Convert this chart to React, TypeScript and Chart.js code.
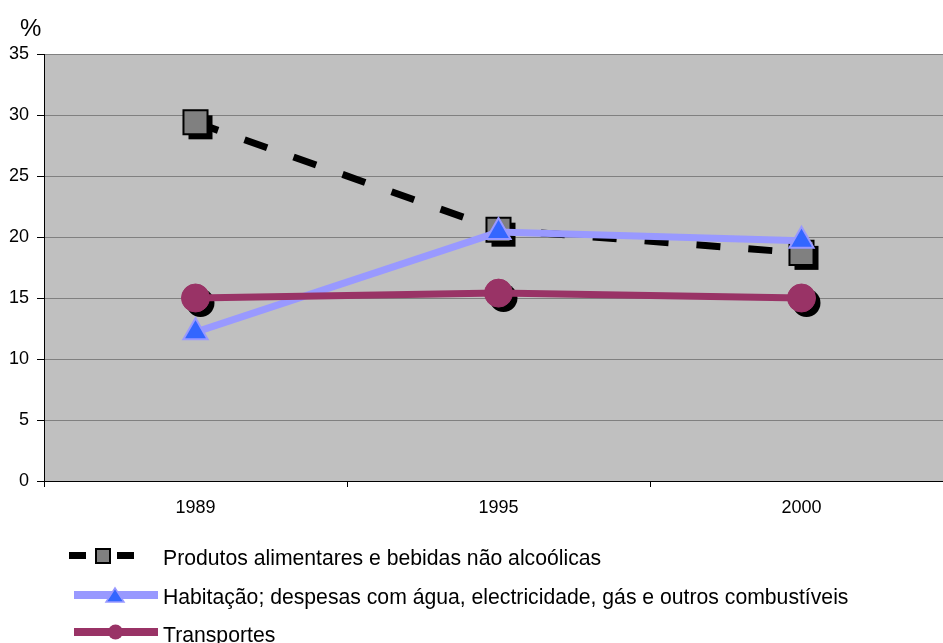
import React, { useEffect, useRef } from 'react';
import { Chart, registerables } from 'chart.js';

Chart.register(...registerables);

const FONT = '"Liberation Sans", Arial, sans-serif';

const categories = ['1989', '1995', '2000'];
const seriesNames = [
  'Produtos alimentares e bebidas não alcoólicas',
  'Habitação; despesas com água, electricidade, gás e outros combustíveis',
  'Transportes',
];
const produtos = [29.4, 20.6, 18.7];
const habitacao = [12.2, 20.4, 19.7];
const transportes = [15.0, 15.4, 15.0];
const yMin = 0;
const yMax = 35;
const yStep = 5;
const yUnit = '%';

const plotBgPlugin = {
  id: 'plotBg',
  beforeDraw(chart: any) {
    const { ctx, chartArea } = chart;
    ctx.save();
    ctx.fillStyle = '#C0C0C0';
    ctx.fillRect(chartArea.left, chartArea.top, chartArea.right - chartArea.left, chartArea.bottom - chartArea.top);
    ctx.restore();
  },
};

const shadowPlugin = {
  id: 'markerShadow',
  beforeDatasetDraw(chart: any, args: any) {
    const ds: any = chart.data.datasets[args.index];
    const shape = ds.shadowShape;
    if (!shape) return;
    const meta = chart.getDatasetMeta(args.index);
    const ctx = chart.ctx;
    ctx.save();
    ctx.fillStyle = '#000';
    meta.data.forEach((pt: any) => {
      const x = pt.x + 5;
      const y = pt.y + 5;
      ctx.beginPath();
      if (shape === 'rect') ctx.rect(x - 12, y - 12, 24, 24);
      else ctx.arc(x, y, 14, 0, Math.PI * 2);
      ctx.fill();
    });
    ctx.restore();
  },
};

export default function App() {
  const ref = useRef<HTMLCanvasElement>(null);

  useEffect(() => {
    document.body.style.margin = '0';
    document.body.style.overflow = 'hidden';
    const chart = new Chart(ref.current as HTMLCanvasElement, {
      type: 'line',
      data: {
        labels: categories,
        datasets: [
          {
            label: seriesNames[0],
            data: produtos,
            borderColor: '#000000',
            borderWidth: 7,
            borderDash: [24, 28],
            pointStyle: 'rect',
            pointRadius: 17,
            pointBackgroundColor: '#808080',
            pointBorderColor: '#000000',
            pointBorderWidth: 2,
            order: 3,
            shadowShape: 'rect',
          } as any,
          {
            label: seriesNames[1],
            data: habitacao,
            borderColor: '#9999FF',
            borderWidth: 7,
            pointStyle: 'triangle',
            pointRadius: 14,
            pointBackgroundColor: '#3366FF',
            pointBorderColor: '#9999FF',
            pointBorderWidth: 2,
            order: 2,
          },
          {
            label: seriesNames[2],
            data: transportes,
            borderColor: '#993366',
            borderWidth: 7,
            pointStyle: 'circle',
            pointRadius: 14,
            pointBackgroundColor: '#993366',
            pointBorderColor: '#993366',
            pointBorderWidth: 1,
            order: 1,
            shadowShape: 'circle',
          } as any,
        ],
      },
      options: {
        responsive: false,
        animation: false,
        events: [],
        layout: { autoPadding: false, padding: { top: 54, left: 0, right: 0, bottom: 0 } },
        plugins: { legend: { display: false }, tooltip: { enabled: false } },
        scales: {
          x: {
            type: 'category',
            offset: true,
            grid: {
              offset: true,
              drawOnChartArea: false,
              drawTicks: true,
              tickLength: 6,
              color: '#000',
              tickColor: '#000',
            },
            border: { display: true, color: '#000', width: 1 },
            ticks: { color: '#000', font: { family: FONT, size: 18 }, padding: 10, maxRotation: 0 },
            afterFit: (s: any) => {
              s.height = 49;
              s.paddingLeft = 0;
              s.paddingRight = 0;
            },
          },
          y: {
            min: yMin,
            max: yMax,
            ticks: { stepSize: yStep, color: '#000', font: { family: FONT, size: 18 }, padding: 8 },
            grid: { color: '#808080', tickColor: '#000', tickLength: 7, lineWidth: 1 },
            border: { color: '#000', width: 1 },
            afterFit: (s: any) => {
              s.width = 44;
            },
          },
        },
      } as any,
      plugins: [plotBgPlugin, shadowPlugin],
    });
    return () => chart.destroy();
  }, []);

  const textStyle: React.CSSProperties = {
    position: 'absolute',
    left: 163,
    fontFamily: FONT,
    fontSize: 21.2,
    lineHeight: '24px',
    color: '#000',
    whiteSpace: 'nowrap',
  };

  return (
    <div style={{ position: 'relative', width: 943, height: 643, overflow: 'hidden', background: '#fff' }}>
      <canvas ref={ref} width={953} height={530} style={{ position: 'absolute', left: 0, top: 0, width: 953, height: 530 }} />
      <div style={{ position: 'absolute', left: 20, top: 16, fontFamily: FONT, fontSize: 24, lineHeight: '24px' }}>{yUnit}</div>
      <svg width={943} height={643} style={{ position: 'absolute', left: 0, top: 0 }}>
        <rect x={69} y={552} width={17} height={7} fill="#000" />
        <rect x={96} y={549} width={14} height={14} fill="#808080" stroke="#000" strokeWidth={2} />
        <rect x={117} y={552} width={17} height={7} fill="#000" />
        <line x1={74} y1={595} x2={158} y2={595} stroke="#9999FF" strokeWidth={8} />
        <polygon points="115,588 106,602 124,602" fill="#3366FF" stroke="#9999FF" strokeWidth={1.5} />
        <line x1={74} y1={632} x2={158} y2={632} stroke="#993366" strokeWidth={8} />
        <circle cx={115.5} cy={632} r={7.5} fill="#993366" />
      </svg>
      <div style={{ ...textStyle, top: 546 }}>{seriesNames[0]}</div>
      <div style={{ ...textStyle, top: 585 }}>{seriesNames[1]}</div>
      <div style={{ ...textStyle, top: 623 }}>{seriesNames[2]}</div>
    </div>
  );
}
